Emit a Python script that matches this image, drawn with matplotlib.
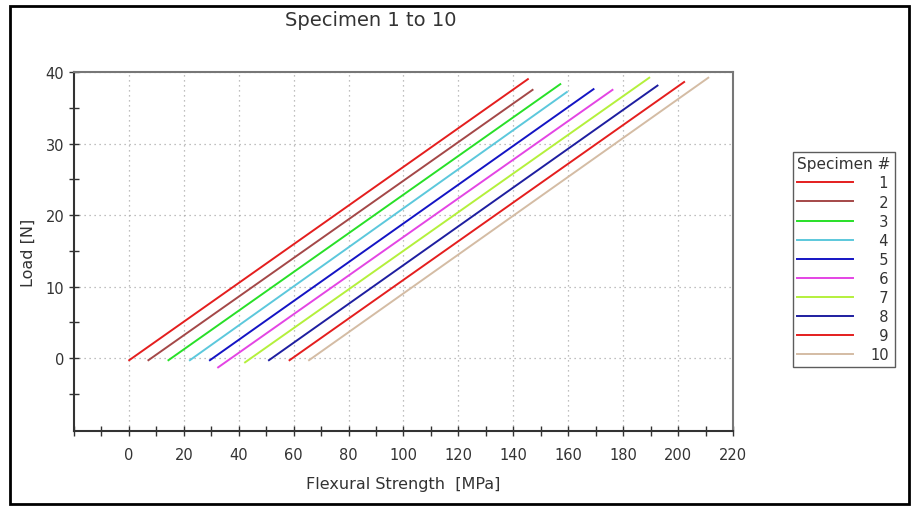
import matplotlib
matplotlib.use("Agg")

import matplotlib.pyplot as plt
from matplotlib.patches import Rectangle
import numpy as np


# start / end points (strength [MPa], load [N])
specimens = ["1", "2", "3", "4", "5", "6", "7", "8", "9", "10"]
x_start = [0.1, 7.1, 14.4, 22.2, 29.5, 32.5, 42.3, 51.0, 58.5, 65.6]
y_start = [-0.3, -0.3, -0.3, -0.3, -0.3, -1.3, -0.6, -0.3, -0.3, -0.3]
x_end = [145.3, 147.0, 157.1, 159.5, 169.2, 176.1, 189.5, 192.5, 202.2, 211.0]
y_end = [39.0, 37.5, 38.3, 37.2, 37.6, 37.5, 39.2, 38.1, 38.6, 39.2]

colors = ["#e41e1e", "#a44848", "#28e028", "#5cc8dc", "#1414c4",
          "#e444e4", "#b4f03c", "#1e1ea0", "#e41e1e", "#d4bca4"]

fig = plt.figure(figsize=(9.2, 5.1), dpi=100)
ax = fig.add_axes([74 / 920, 1 - 432 / 510, (733 - 74) / 920, (432 - 73) / 510])

for i in range(len(specimens)):
    # figure space pads single digits so the numbers line up on the right
    lab = specimens[i] if len(specimens[i]) > 1 else "\u2007" + specimens[i]
    ax.plot([x_start[i], x_end[i]], [y_start[i], y_end[i]],
            color=colors[i], lw=1.4, label=lab)

ax.set_xlim(-20, 220)
ax.set_ylim(-10.2, 40)

ax.set_xticks(np.arange(0, 221, 20))
ax.set_xticks([-20, -10] + list(range(10, 220, 20)), minor=True)
ax.set_yticks(np.arange(0, 41, 10))
ax.set_yticks([-5, 5, 15, 25, 35], minor=True)

ax.tick_params(which="both", direction="inout", length=7, width=1,
               color="#333333", labelcolor="#333333", labelsize=10.5)
ax.tick_params(axis="x", pad=8)

ax.grid(True, which="major", linestyle=(0, (1, 3)), color="#aaaaaa", lw=0.9)

for side in ["left", "bottom"]:
    ax.spines[side].set_color("#333333")
    ax.spines[side].set_linewidth(1.5)
for side in ["top", "right"]:
    ax.spines[side].set_color("#777777")
    ax.spines[side].set_linewidth(1.5)

ax.set_xlabel("Flexural Strength  [MPa]", fontsize=11.5, color="#333333", labelpad=10)
ax.set_ylabel("Load [N]", fontsize=11.5, color="#333333", labelpad=7)

fig.text(371 / 920, 1 - 20 / 510, "Specimen 1 to 10", fontsize=14,
         color="#333333", ha="center", va="center")

leg = ax.legend(title="Specimen #", loc="upper left",
                bbox_to_anchor=(793 / 920, 1 - 153 / 510),
                bbox_transform=fig.transFigure, alignment="left",
                fontsize=10.5, title_fontsize=11, frameon=True, fancybox=False,
                edgecolor="#333333", handlelength=3.8, handletextpad=1.2,
                labelspacing=0.28, borderpad=0.3, borderaxespad=0)
leg.get_frame().set_linewidth(1.0)
leg.get_title().set_color("#333333")
for t in leg.get_texts():
    t.set_color("#333333")

# outer frame of the figure
fig.patches.append(Rectangle((10 / 920, 1 - 505 / 510), 899 / 920, 498 / 510,
                             transform=fig.transFigure, fill=False,
                             edgecolor="black", lw=2))

fig.savefig("out.png", dpi=100)
